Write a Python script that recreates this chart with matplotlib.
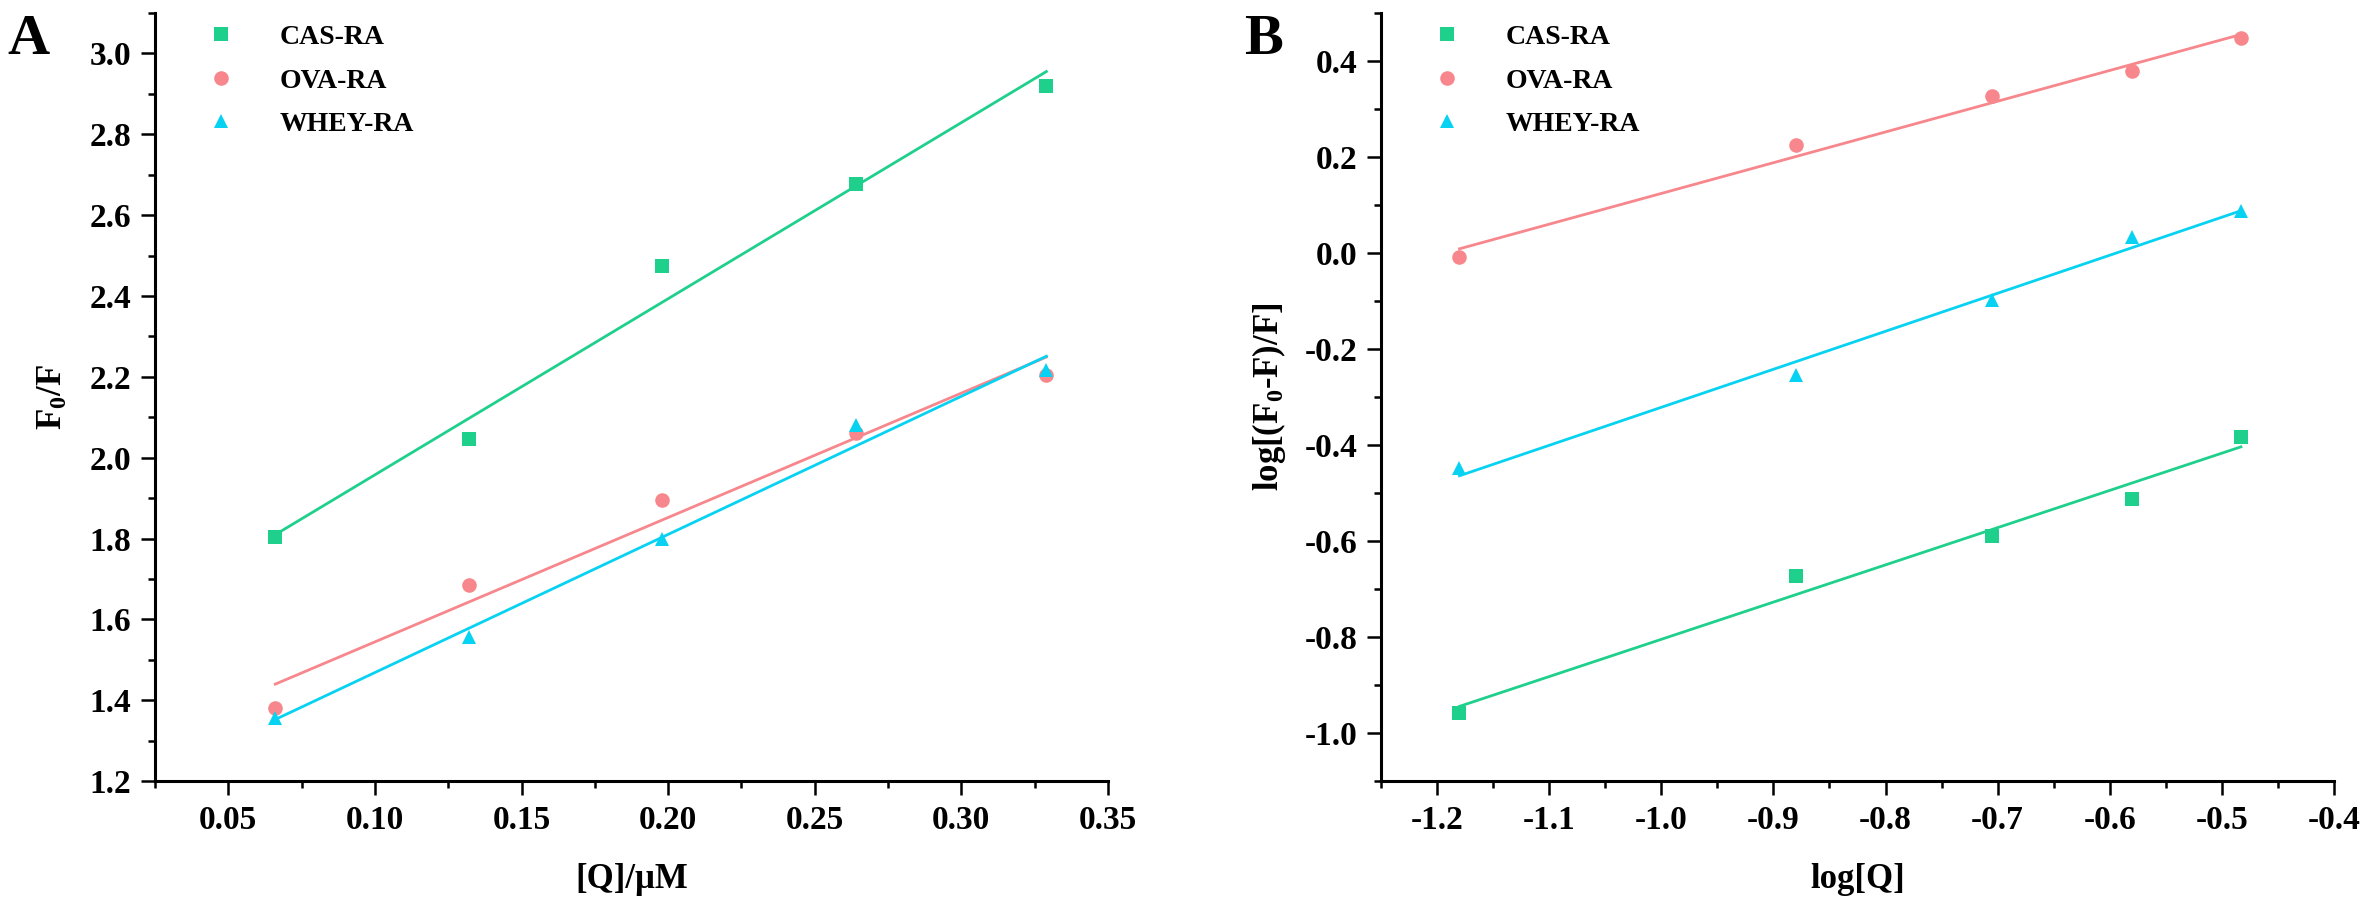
import matplotlib
matplotlib.use("Agg")
import matplotlib.pyplot as plt
import numpy as np
from matplotlib.ticker import MultipleLocator

plt.rcParams["font.family"] = ["Liberation Serif", "DejaVu Serif"]
plt.rcParams["font.weight"] = "bold"
plt.rcParams["mathtext.fontset"] = "custom"
plt.rcParams["mathtext.rm"] = "Liberation Serif:bold"
plt.rcParams["mathtext.bf"] = "Liberation Serif:bold"
plt.rcParams["mathtext.it"] = "Liberation Serif:bold"

# series names and colours
labels = ["CAS-RA", "OVA-RA", "WHEY-RA"]
colors = ["#1fd08c", "#f7878c", "#08d2f2"]
markers = ["s", "o", "^"]

# panel A: Stern-Volmer, [Q] in uM
q_conc = [0.066, 0.132, 0.198, 0.264, 0.329]
f0f_cas = [1.803, 2.045, 2.473, 2.677, 2.920]
f0f_ova = [1.380, 1.686, 1.895, 2.060, 2.205]
f0f_whey = [1.357, 1.556, 1.800, 2.082, 2.218]

# panel B: double log
log_q = [-1.180, -0.880, -0.705, -0.580, -0.483]
logf_cas = [-0.958, -0.672, -0.590, -0.512, -0.383]
logf_ova = [-0.008, 0.226, 0.327, 0.379, 0.447]
logf_whey = [-0.448, -0.255, -0.097, 0.034, 0.087]

fig = plt.figure(figsize=(23.7, 9.15), dpi=100)
axA = fig.add_axes([0.0654, 0.1464, 0.4021, 0.8394])
axB = fig.add_axes([0.5827, 0.1464, 0.4021, 0.8394])


def draw(ax, x, ys):
    x = np.array(x)
    for y, lab, c, m in zip(ys, labels, colors, markers):
        y = np.array(y)
        k, b = np.polyfit(x, y, 1)
        ax.plot(x[[0, -1]], k * x[[0, -1]] + b, color=c, linewidth=2, zorder=2)
        ax.plot(x, y, linestyle="none", marker=m, color=c, markersize=10.5,
                markeredgewidth=0, label=lab, zorder=3)
    for s in ["top", "right"]:
        ax.spines[s].set_visible(False)
    for s in ["left", "bottom"]:
        ax.spines[s].set_linewidth(2.2)
    ax.tick_params(which="major", direction="out", length=10, width=1.8,
                   labelsize=24, pad=7)
    ax.tick_params(which="minor", direction="out", length=5, width=1.8)
    leg = ax.legend(loc="upper left", frameon=False, fontsize=20,
                    handletextpad=1.1, labelspacing=0.65, borderaxespad=0.3,
                    bbox_to_anchor=(0.02, 1.01))
    return leg


draw(axA, q_conc, [f0f_cas, f0f_ova, f0f_whey])
axA.set_xlim(0.025, 0.35)
axA.set_ylim(1.2, 3.1)
axA.xaxis.set_major_locator(MultipleLocator(0.05))
axA.xaxis.set_minor_locator(MultipleLocator(0.025))
axA.yaxis.set_major_locator(MultipleLocator(0.2))
axA.yaxis.set_minor_locator(MultipleLocator(0.1))
axA.xaxis.set_major_formatter(lambda v, p: f"{v:.2f}")
axA.yaxis.set_major_formatter(lambda v, p: f"{v:.1f}")
axA.set_xlabel(r"[Q]/μM", fontsize=25, fontweight="bold", labelpad=20)
axA.set_ylabel(r"F$_0$/F", fontsize=25, fontweight="bold", labelpad=14)

draw(axB, log_q, [logf_cas, logf_ova, logf_whey])
axB.set_xlim(-1.25, -0.4)
axB.set_ylim(-1.1, 0.5)
axB.xaxis.set_major_locator(MultipleLocator(0.1))
axB.xaxis.set_minor_locator(MultipleLocator(0.05))
axB.yaxis.set_major_locator(MultipleLocator(0.2))
axB.yaxis.set_minor_locator(MultipleLocator(0.1))
axB.xaxis.set_major_formatter(lambda v, p: f"{v:.1f}")
axB.yaxis.set_major_formatter(lambda v, p: f"{v:.1f}")
axB.set_xlabel("log[Q]", fontsize=25, fontweight="bold", labelpad=20)
axB.set_ylabel(r"log[(F$_0$-F)/F]", fontsize=25, fontweight="bold", labelpad=12)

fig.text(0.003, 0.985, "A", fontsize=42, fontweight="bold", va="top", ha="left")
fig.text(0.525, 0.985, "B", fontsize=42, fontweight="bold", va="top", ha="left")

fig.savefig("out.png", dpi=100)
